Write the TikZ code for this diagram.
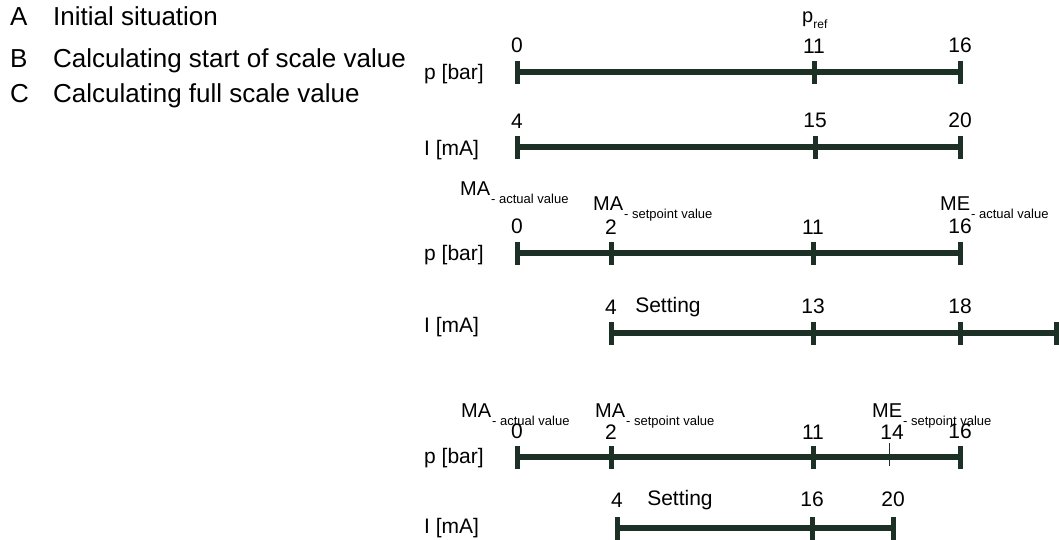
\documentclass[tikz,border=0pt]{standalone}
\usepackage{fontspec}
\setmainfont{Liberation Sans}
\usetikzlibrary{positioning}
\definecolor{scalegreen}{RGB}{28,48,38}
\newcommand{\lowsub}[1]{\raisebox{-8pt}{\fontsize{13}{13}\selectfont\kern1pt #1}}

\begin{document}
\begin{tikzpicture}[x=1pt, y=-1pt,
  axis/.style={draw=scalegreen, line width=6pt},
  tick/.style={rectangle, fill=scalegreen, inner sep=0pt,
               minimum width=5pt, minimum height=23pt},
  thintick/.style={rectangle, fill=scalegreen, inner sep=0pt,
               minimum width=1pt, minimum height=23pt},
  num/.style={font=\fontsize{21}{25}\selectfont, inner sep=0pt},
  qty/.style={font=\fontsize{21}{25}\selectfont, inner sep=0pt, anchor=west},
  valtag/.style={font=\fontsize{20}{24}\selectfont, inner sep=0pt, anchor=base west},
  legend/.style={font=\fontsize{26}{30}\selectfont, inner sep=0pt, anchor=base west}
]
\useasboundingbox (0,0) rectangle (1059,539);

% -- Legend --
\node[legend] (la) at (10, 25) {A};
\node[legend] (ta) at (53, 25) {Initial situation};
\node[legend] (lb) at (10, 67) {B};
\node[legend] (tb) at (53, 67) {Calculating start of scale value};
\node[legend] (lc) at (10,102) {C};
\node[legend] (tc) at (53,102) {Calculating full scale value};

% -- A: pressure scale --
\node[tick] (t1a) at (517,72) {};
\node[tick] (t1b) at (814,72) {};
\node[tick] (t1c) at (960,72) {};
\draw[axis] (t1a.center) -- (t1c.center);
\node[num, above=7pt of t1a] (n1a) {0};
\node[num, above=7pt of t1b] (n1b) {11};
\node[num, above=7pt of t1c] (n1c) {16};
\node[valtag] (pref) at (802,22)
  {p\raisebox{-6pt}{\fontsize{12}{12}\selectfont ref}};
\node[qty] (q1) at (424,74) {p [bar]};

% -- A: current scale --
\node[tick] (t2a) at (517,147) {};
\node[tick] (t2b) at (815,147) {};
\node[tick] (t2c) at (960,147) {};
\draw[axis] (t2a.center) -- (t2c.center);
\node[num, above=7pt of t2a] (n2a) {4};
\node[num, above=7pt of t2b] (n2b) {15};
\node[num, above=7pt of t2c] (n2c) {20};
\node[qty] (q2) at (424,150) {I [mA]};

% -- B: pressure scale --
\node[tick] (t3a) at (517,253) {};
\node[tick] (t3b) at (611,253) {};
\node[tick] (t3c) at (813,253) {};
\node[tick] (t3d) at (960,253) {};
\draw[axis] (t3a.center) -- (t3d.center);
\node[num, above=7pt of t3a] (n3a) {0};
\node[num, above=7pt of t3b] (n3b) {2};
\node[num, above=7pt of t3c] (n3c) {11};
\node[num, above=7pt of t3d] (n3d) {16};
\node[valtag] (m3a) at (460,195) {MA\lowsub{- actual value}};
\node[valtag] (m3b) at (593,210) {MA\lowsub{- setpoint value}};
\node[valtag] (m3c) at (940,210) {ME\lowsub{- actual value}};
\node[qty] (q3) at (424,255) {p [bar]};

% -- B: current scale --
\node[tick] (t4a) at (611,333) {};
\node[tick] (t4b) at (813,333) {};
\node[tick] (t4c) at (960,333) {};
\node[tick] (t4d) at (1056,333) {};
\draw[axis] (t4a.center) -- (t4d.center);
\node[num, above=7pt of t4a] (n4a) {4};
\node[num, above=7pt of t4b] (n4b) {13};
\node[num, above=7pt of t4c] (n4c) {18};
\node[num, right=18pt of n4a] (s4) {Setting};
\node[qty] (q4) at (424,327) {I [mA]};

% -- C: pressure scale --
\node[tick] (t5a) at (517,457) {};
\node[tick] (t5b) at (611,457) {};
\node[tick] (t5c) at (813,457) {};
\node[tick] (t5d) at (960,457) {};
\node[thintick] (t5e) at (889,454) {};
\draw[axis] (t5a.center) -- (t5d.center);
\node[num, above=6pt of t5a] (n5a) {0};
\node[num, above=6pt of t5b] (n5b) {2};
\node[num, above=6pt of t5c] (n5c) {11};
\node[num, above=3pt of t5e, xshift=3pt] (n5e) {14};
\node[num, above=6pt of t5d] (n5d) {16};
\node[valtag] (m5a) at (461,417) {MA\lowsub{- actual value}};
\node[valtag] (m5b) at (595,417) {MA\lowsub{- setpoint value}};
\node[valtag] (m5c) at (872,417) {ME\lowsub{- setpoint value}};
\node[qty] (q5) at (424,458) {p [bar]};

% -- C: current scale --
\node[tick] (t6a) at (617,528) {};
\node[tick] (t6b) at (812,528) {};
\node[tick] (t6c) at (893,528) {};
\draw[axis] (t6a.center) -- (t6c.center);
\node[num, above=9pt of t6a] (n6a) {4};
\node[num, above=9pt of t6b] (n6b) {16};
\node[num, above=9pt of t6c] (n6c) {20};
\node[num, right=24pt of n6a] (s6) {Setting};
\node[qty] (q6) at (424,528) {I [mA]};

\end{tikzpicture}
\end{document}
